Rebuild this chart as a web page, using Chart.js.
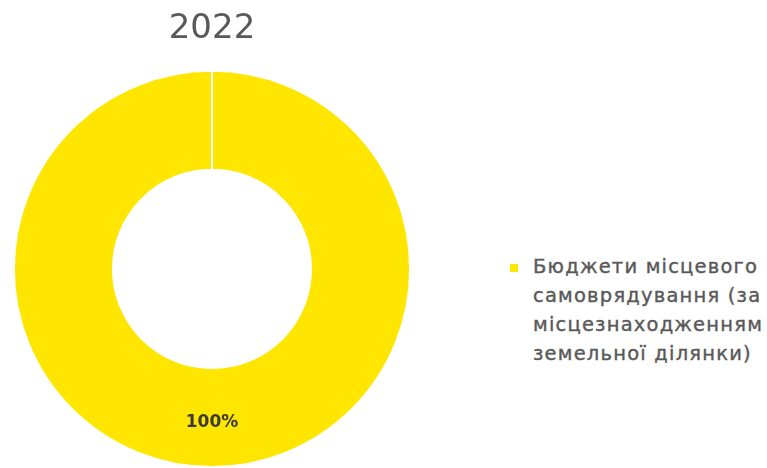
<!DOCTYPE html>
<html>
<head>
<meta charset="utf-8">
<script src="https://cdn.jsdelivr.net/npm/chart.js"></script>
<style>
  html, body { margin: 0; padding: 0; background: #fff; }
  #wrap { position: relative; width: 767px; height: 468px; overflow: hidden; }
  #chartBox { position: absolute; left: 0; top: 0; width: 424px; height: 468px; }
  #legend { position: absolute; left: 508px; top: 252px; font-family: "DejaVu Sans", sans-serif;
            font-size: 19.5px; letter-spacing: 1.2px; line-height: 29px; color: #595959;
            -webkit-text-stroke: 0.4px #595959; white-space: nowrap; }
  #legend .item { position: relative; padding-left: 25px; }
  #legend .box { position: absolute; left: 2px; top: 12px; width: 8px; height: 8px; }
</style>
</head>
<body>
<div id="wrap">
  <div id="chartBox"><canvas id="myChart"></canvas></div>
  <div id="legend"></div>
</div>
<script>
// Chart data
const title = '2022';
const categories = [['Бюджети місцевого', 'самоврядування (за', 'місцезнаходженням', 'земельної ділянки)']];
const shares = [100];
const colors = ['#FFE600'];

// Draw the percent label in the middle of each arc
const sliceLabels = {
    id: 'sliceLabels',
    afterDatasetsDraw(chart) {
        const ctx = chart.ctx;
        const meta = chart.getDatasetMeta(0);
        ctx.save();
        ctx.font = 'bold 17px "DejaVu Sans", sans-serif';
        ctx.fillStyle = '#3a3a3a';
        ctx.textAlign = 'center';
        ctx.textBaseline = 'middle';
        meta.data.forEach((arc, i) => {
            const pos = arc.tooltipPosition();
            ctx.fillText(shares[i] + '%', pos.x, pos.y + 5);
        });
        ctx.restore();
    }
};

function createChart() {
    const ctx = document.getElementById('myChart').getContext('2d');
    new Chart(ctx, {
        type: 'doughnut',
        data: {
            labels: categories.map(c => c.join(' ')),
            datasets: [{
                data: shares,
                backgroundColor: colors,
                borderColor: '#ffffff',
                borderWidth: 2
            }]
        },
        options: {
            responsive: true,
            maintainAspectRatio: false,
            animation: false,
            cutout: '50%',
            layout: { padding: 0 },
            plugins: {
                legend: { display: false },
                tooltip: { enabled: false },
                title: {
                    display: true,
                    text: title,
                    color: '#595959',
                    font: { family: '"DejaVu Sans", sans-serif', size: 34, weight: 'normal' },
                    padding: { top: 9, bottom: 20 }
                }
            }
        },
        plugins: [sliceLabels]
    });

    // HTML legend (multi-line label)
    const legend = document.getElementById('legend');
    categories.forEach((lines, i) => {
        const item = document.createElement('div');
        item.className = 'item';
        item.innerHTML = '<span class="box" style="background:' + colors[i] + '"></span>' + lines.join('<br>');
        legend.appendChild(item);
    });
}

createChart();
</script>
</body>
</html>
